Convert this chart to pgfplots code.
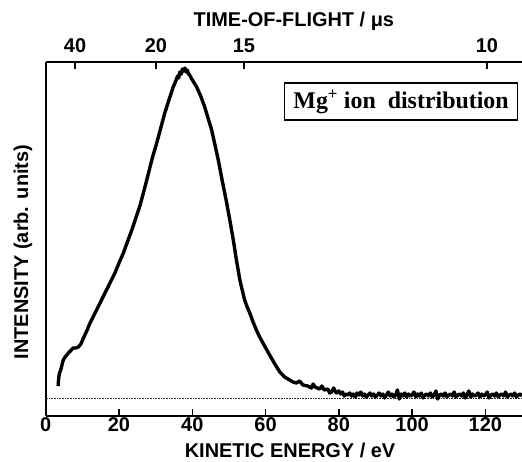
\documentclass[border=0pt]{standalone}
\usepackage{fontspec}
\setmainfont{Liberation Sans}
\newfontfamily\serifb{Liberation Serif}
\usepackage{pgfplots}
\pgfplotsset{compat=1.18}
\begin{document}
\begin{tikzpicture}
\pgfplotsset{
  common/.style={
    scale only axis, width=476.3bp, height=354bp,
    xmin=0, xmax=130, ymin=-18, ymax=336,
    /pgf/number format/assume math mode=true,
    tick align=inside, major tick length=7bp,
    every tick/.style={black, line width=1.5bp},
    axis line style={line width=1.8bp},
    ticklabel style={font=\fontsize{20}{20}\selectfont\bfseries},
    label style={font=\fontsize{20}{20}\selectfont\bfseries},
  }
}
\begin{axis}[common,
  axis x line*=bottom, axis y line*=left,
  xtick={0,20,...,120}, ytick=\empty,
  xticklabel style={yshift=2bp},
  xlabel={KINETIC ENERGY / eV},
  xlabel style={at={(axis description cs:0.513,-0.096)}, anchor=center},
  ylabel={INTENSITY (arb. units)},
  ylabel style={at={(axis description cs:-0.0477,0.463)}, anchor=center},
  clip=true,
]
\addplot[black!85, dash pattern=on 1bp off 0.6bp, line width=0.8bp] coordinates {(0,0) (130,0)};
\addplot[black, line width=3.4bp, line join=round] coordinates {
(3.4,12) (3.5,18) (3.7,24) (4.1,28) (4.5,34) (4.8,38) (5.3,41) (6.2,45) (7.0,48) (7.5,50)
(8.2,50) (8.9,51) (9.6,54) (10.3,60) (11.2,67) (12.1,75) (13.2,83) (14.3,91) (15.5,100)
(16.6,108) (17.8,117) (18.9,125) (20.0,135) (21.2,145) (22.3,156) (23.5,168) (24.6,180)
(25.7,192) (26.8,207) (28.0,224) (29.1,240) (30.3,255) (31.4,270) (32.5,285) (33.2,293)
(33.9,301) (34.8,311) (35.5,317) (36.0,322) (36.3,320) (36.6,326) (37.0,324) (37.3,329)
(37.6,327) (38.0,330) (38.3,326) (38.6,328) (39.0,324) (39.3,323) (39.7,320) (40.2,317)
(41.2,311) (42.3,302) (43.4,291) (44.3,280) (45.3,268) (46.2,253) (47.1,238) (48.2,217)
(49.4,195) (50.3,177) (51.2,158) (52.1,137) (53.0,118) (53.7,107) (54.3,98) (55.0,91)
(55.7,85) (56.6,76) (57.5,68) (58.4,61) (59.3,55) (60.5,47) (61.6,40) (62.7,33) (63.9,26)
(65.2,21) (66.6,18) (67.5,16) (68.4,15) (69.3,17) (70.2,13) (71.5,12) (72.5,10) (73.0,14) (73.5,11) (74.8,9) (75.4,12) (76,8)
(77,9) (77.5,5) (78,6) (78.6,10) (79.3,5) (80.0,7) (80.5,4) (81,6) (81.5,2) (82,4)
(82.5,3) (83,5) (83.5,2) (84,4) (84.5,1) (85,5) (85.5,3) (86,6) (86.5,2) (87,4) (87.5,1)
(88,3) (88.5,5) (89,2) (89.5,4) (90,1) (90.5,3) (91,5) (91.5,2) (92,4) (92.5,0) (93,3)
(93.5,6) (94,2) (94.5,4) (95,1) (95.5,3) (96,8) (96.5,-1) (97,4) (97.5,2) (98,5) (98.5,1)
(99,4) (99.5,2) (100,3) (100.5,6) (101,1) (101.5,4) (102,2) (102.5,5) (103,0) (103.5,3)
(104,4) (104.5,2) (105,5) (105.5,1) (106,3) (106.5,7) (107,-1) (107.5,3) (108,4) (108.5,2)
(109,5) (109.5,1) (110,3) (110.5,4) (111,2) (111.5,6) (112,1) (112.5,3) (113,4) (113.5,2)
(114,5) (114.5,0) (115,3) (115.5,7) (116,1) (116.5,4) (117,2) (117.5,3) (118,5) (118.5,1)
(119,4) (119.5,2) (120,3) (120.5,6) (121,0) (121.5,3) (122,4) (122.5,2) (123,5) (123.5,1)
(124,3) (124.5,4) (125,2) (125.5,6) (126,1) (126.5,3) (127,4) (127.5,2) (128,5) (128.5,1)
(129,3) (129.5,4) (130,2)
};
\node[draw, line width=1.4bp, fill=white, minimum width=233bp, minimum height=37bp,
  inner sep=0pt, font=\serifb\bfseries\fontsize{24}{24}\selectfont]
  at (axis cs:97.0,296.5) {Mg\textsuperscript{+}\ ion\ \ distribution};
\end{axis}
\begin{axis}[common,
  axis x line*=top, axis y line=none,
  xtick={8.0,30.1,54.1,120.4}, xticklabels={40,20,15,10},
  xticklabel style={yshift=6bp},
  xlabel={TIME-OF-FLIGHT / μs},
  xlabel style={at={(axis description cs:0.521,1.116)}, anchor=center},
]
\end{axis}
\pgfresetboundingbox
\path (current axis.south west) ++(-45.7bp,-46bp) rectangle ++(522bp,462bp);
\end{tikzpicture}
\end{document}
